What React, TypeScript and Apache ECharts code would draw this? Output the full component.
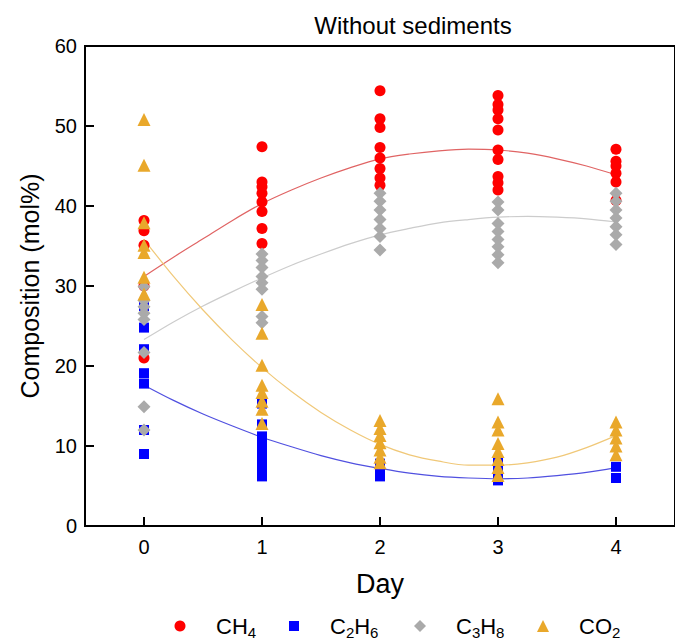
import React, { useEffect, useRef } from "react";
import * as echarts from "echarts";

const FONT = "'Liberation Sans', Arial, sans-serif";

const days = [0, 1, 2, 3, 4];
const seriesNames = ["CH4", "C2H6", "C3H8", "CO2"];

// measured values per day (index = day)
const ch4Values = [
  [38.2, 36.9, 35.1, 30.0, 21.0],
  [47.4, 43.0, 42.4, 41.6, 40.5, 39.3, 37.2, 35.3],
  [54.4, 50.9, 49.8, 47.3, 46.0, 44.7, 43.5, 42.6],
  [53.8, 52.7, 52.0, 50.9, 49.5, 47.0, 45.8, 43.7, 42.9, 42.0],
  [47.1, 45.6, 45.0, 44.1, 43.0, 40.7],
];
const c2h6Values = [
  [27.5, 24.8, 22.1, 19.1, 17.8, 12.0, 9.0],
  [15.3, 12.7, 11.2, 10.3, 9.4, 8.6, 7.8, 7.0, 6.2],
  [7.8, 7.0, 6.2],
  [8.2, 7.2, 6.2, 5.7],
  [7.4, 6.0],
];
const c3h8Values = [
  [29.9, 28.2, 27.4, 26.6, 25.8, 21.7, 14.9, 12.0],
  [34.0, 33.2, 32.3, 31.2, 30.4, 29.6, 26.2, 25.4],
  [41.6, 40.6, 39.5, 38.3, 37.2, 36.2, 34.5],
  [40.5, 39.5, 37.8, 36.8, 35.8, 34.9, 33.9, 32.9],
  [41.6, 40.6, 39.5, 38.5, 37.4, 36.4, 35.2],
];
const co2Values = [
  [50.8, 45.1, 37.9, 35.1, 34.2, 31.1, 29.0],
  [27.7, 24.1, 20.1, 17.6, 16.7, 15.6, 14.6, 12.8],
  [13.2, 12.2, 11.3, 10.4, 9.5, 8.6, 7.9],
  [15.9, 13.0, 12.0, 10.3, 9.3, 8.3, 7.3, 6.3],
  [13.0, 12.0, 11.0, 10.0, 8.9],
];

// trend curves
const fitDays = [0, 0.25, 0.5, 0.75, 1, 1.25, 1.5, 1.75, 2, 2.25, 2.5, 2.75, 3, 3.25, 3.5, 3.75, 4];
const ch4Fit = [31.2, 33.6, 35.9, 38.2, 40.3, 42.0, 43.5, 44.8, 45.9, 46.5, 46.9, 47.1, 47.0, 46.6, 45.9, 45.0, 43.9];
const c2h6Fit = [17.6, 15.7, 14.0, 12.5, 11.1, 9.9, 8.8, 7.9, 7.2, 6.6, 6.2, 6.0, 5.9, 6.0, 6.3, 6.7, 7.3];
const c3h8Fit = [23.3, 25.5, 27.5, 29.3, 31.0, 32.6, 34.0, 35.3, 36.4, 37.2, 37.9, 38.3, 38.6, 38.7, 38.6, 38.4, 38.0];
const co2Fit = [35.8, 31.2, 27.0, 23.2, 19.8, 16.8, 14.2, 12.0, 10.2, 8.9, 8.1, 7.6, 7.6, 7.9, 8.6, 9.8, 11.3];

const yTicks = [0, 10, 20, 30, 40, 50, 60];

const toPairs = (vals: number[][]) =>
  vals.flatMap((arr, i) => arr.map((v) => [days[i], v]));
const toLine = (vals: number[]) => fitDays.map((d, i) => [d, vals[i]]);

const markerColors = ["#ff0000", "#0000ff", "#aaaaaa", "#e9a82b"];
const lineColors = ["#e06464", "#5050e0", "#cccccc", "#f0c878"];
const symbols = ["circle", "rect", "diamond", "triangle"];
const symbolSizes = [11, 10, 13, 13];
const legendSizes = [11, 10, 12, 12];
const legendCenters = [180, 294, 420, 543];

export default function App() {
  const ref = useRef<HTMLDivElement>(null);
  useEffect(() => {
    if (!ref.current) return;
    const chart = echarts.init(ref.current, undefined, { renderer: "svg" });
    const scatterData = [ch4Values, c2h6Values, c3h8Values, co2Values].map(toPairs);
    const fitData = [ch4Fit, c2h6Fit, c3h8Fit, co2Fit].map(toLine);

    const lineSeries = fitData.map((d, i) => ({
      name: seriesNames[i] + " fit",
      type: "line",
      data: d,
      smooth: 0.3,
      showSymbol: false,
      silent: true,
      lineStyle: { color: lineColors[i], width: 1.2 },
      z: 1,
    }));
    const scatterSeries = scatterData.map((d, i) => ({
      name: seriesNames[i],
      type: "scatter",
      data: d,
      symbol: symbols[i],
      symbolSize: symbolSizes[i],
      itemStyle: { color: markerColors[i], opacity: 1 },
      z: 2,
    }));

    const legends = seriesNames.map((n, i) => {
      const sz = legendSizes[i];
      const gap = 36 - sz / 2 - 5;
      return {
        data: [n],
        left: legendCenters[i] - sz / 2,
        top: 612,
        itemWidth: sz,
        itemHeight: sz,
        selectedMode: false,
        padding: 0,
        formatter: (name: string) => "{g| }" + name.replace(/(\d)/g, "{s|$1}"),
        textStyle: {
          fontFamily: FONT,
          fontSize: 22,
          color: "#000",
          lineHeight: 28,
          rich: {
            g: { width: gap, fontSize: 22 },
            s: { fontFamily: FONT, fontSize: 15, color: "#000", verticalAlign: "bottom" },
          },
        },
      };
    });

    chart.setOption({
      animation: false,
      backgroundColor: "#ffffff",
      textStyle: { fontFamily: FONT },
      grid: {
        left: 85,
        top: 46,
        right: -5,
        bottom: 118,
        show: true,
        borderColor: "#000",
        borderWidth: 2,
        backgroundColor: "transparent",
      },
      legend: legends,
      graphic: [
        {
          type: "text",
          x: 413,
          y: 25,
          style: {
            text: "Without sediments",
            font: `24px ${FONT}`,
            fill: "#000",
            textAlign: "center",
            textVerticalAlign: "middle",
          },
        },
      ],
      xAxis: {
        type: "value",
        min: -0.5,
        max: 4.5,
        name: "Day",
        nameLocation: "middle",
        nameGap: 44,
        nameTextStyle: { fontSize: 27, color: "#000", fontFamily: FONT },
        axisLine: { show: true, onZero: false, lineStyle: { color: "#000", width: 2 } },
        axisTick: {
          show: true,
          inside: true,
          length: 9,
          customValues: days,
          lineStyle: { color: "#000", width: 2 },
        },
        axisLabel: {
          customValues: days,
          fontSize: 20,
          color: "#000",
          margin: 11,
          fontFamily: FONT,
        },
        splitLine: { show: false },
      },
      yAxis: {
        type: "value",
        min: 0,
        max: 60,
        interval: 10,
        name: "Composition (mol%)",
        nameLocation: "middle",
        nameGap: 43,
        nameTextStyle: { fontSize: 25, color: "#000", fontFamily: FONT },
        axisLine: { show: true, onZero: false, lineStyle: { color: "#000", width: 2 } },
        axisTick: {
          show: true,
          inside: true,
          length: 9,
          customValues: yTicks,
          lineStyle: { color: "#000", width: 2 },
        },
        axisLabel: {
          customValues: yTicks,
          fontSize: 20,
          color: "#000",
          margin: 8,
          fontFamily: FONT,
        },
        splitLine: { show: false },
      },
      series: [...lineSeries, ...scatterSeries],
    });
    return () => chart.dispose();
  }, []);
  return (
    <div
      ref={ref}
      style={{ position: "fixed", left: 0, top: 0, width: 675, height: 644 }}
    />
  );
}
